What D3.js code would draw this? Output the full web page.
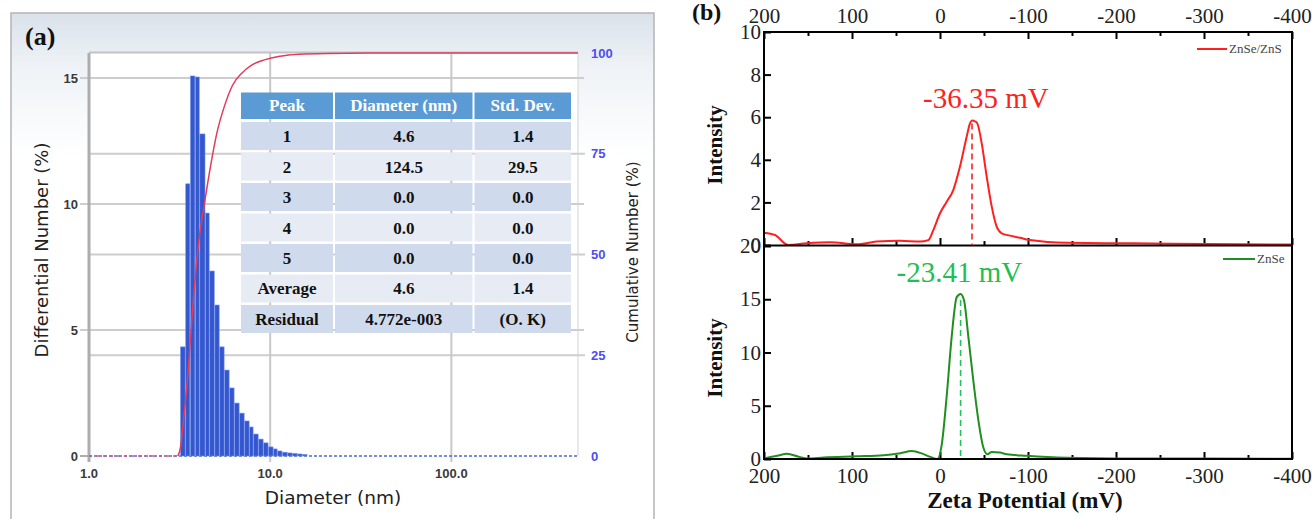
<!DOCTYPE html>
<html>
<head>
<meta charset="utf-8">
<script src="https://cdn.jsdelivr.net/npm/d3@7"></script>
<style>
  body { margin: 0; background: #fff; }
  svg { display: block; }
</style>
</head>
<body>
<div id="my_dataviz"></div>
<script>
// ---------- panel (a) data : size distribution ----------
var binEdges = [3.20, 3.42, 3.63, 3.87, 4.09, 4.40, 4.64, 4.95, 5.27, 5.61, 5.98, 6.37, 6.79,
                7.24, 7.71, 8.11, 8.65, 9.21, 9.81, 10.45, 11.0, 11.7, 12.5, 13.3, 14.2, 15.1, 16.1];
var diffNumber = [4.33, 10.8, 15.08, 15.04, 12.78, 9.64, 7.34, 5.99, 4.33, 3.41, 2.70, 2.10, 1.70,
                  1.39, 1.15, 0.87, 0.67, 0.52, 0.36, 0.28, 0.20, 0.15, 0.12, 0.10, 0.08, 0.06];
var cumDiameter = [3.09, 3.20, 3.29, 3.51, 3.74, 4.03, 4.35, 4.69, 5.07, 5.61, 6.2, 6.97, 7.9, 9.3, 11.3, 14.5, 21, 40, 500];
var cumNumber   = [0,    2.2,  7,    20,   37,   53,   63,   72,   80,   87,   92,  95,   97,  98.3, 99.2, 99.7, 99.9, 100, 100];
var leftTicks = [0, 5, 10, 15];
var rightTicks = [0, 25, 50, 75, 100];
var diamTicks = [1, 10, 100];

var tableHeader = ["Peak", "Diameter (nm)", "Std. Dev."];
var peakLabels = ["1", "2", "3", "4", "5", "Average", "Residual"];
var peakDiameters = ["4.6", "124.5", "0.0", "0.0", "0.0", "4.6", "4.772e-003"];
var peakStdDevs = ["1.4", "29.5", "0.0", "0.0", "0.0", "1.4", "(O. K)"];

// ---------- panel (b) data : zeta potential ----------
var zetaTicks = [200, 100, 0, -100, -200, -300, -400];
var zetaMinor = [150, 50, -50, -150, -250, -350];
var shellMv  = [200, 187.5, 172.7, 151.5, 125, 94.7, 72, 45.5, 22.7, 13.3, 7.6, 0, -7.6, -15.1, -22.7, -30.3,
                -34.1, -36.35, -40, -42.4, -47.4, -53.1, -58.8, -64.4, -70.1, -79.5, -90.9, -102.3, -144, -219, -300, -400];
var shellInt = [0.58, 0.47, 0.0, 0.08, 0.13, 0.03, 0.16, 0.2, 0.16, 0.23, 0.7, 1.49, 2.03, 2.58, 3.68, 5.08,
                5.71, 5.85, 5.8, 5.71, 4.77, 3.2, 1.8, 0.86, 0.55, 0.44, 0.34, 0.23, 0.1, 0.08, 0.05, 0.02];
var coreMv  = [200, 185, 174, 160, 151, 132, 95, 64, 45, 32, 20, 11, 3, -1.9, -7.6, -13.3, -19, -23.41,
               -27.3, -32.2, -37.8, -43.5, -49.2, -53.8, -58.8, -68, -75.8, -98.5, -144, -219, -400];
var coreInt = [0.05, 0.3, 0.5, 0.2, 0.05, 0.15, 0.25, 0.35, 0.55, 0.75, 0.5, 0.2, 0.0, 1.3, 5.9, 11.5, 15.2, 15.5,
               14.9, 11.5, 7.4, 3.7, 1.1, 0.45, 0.65, 0.6, 0.45, 0.3, 0.12, 0.05, 0.03];
var shellPeak = {mv: -36.35, val: 5.85, label: "-36.35 mV"};
var corePeak = {mv: -23.41, val: 15.5, label: "-23.41 mV"};

var svg = d3.select("#my_dataviz")
  .append("svg")
    .attr("width", 1312)
    .attr("height", 519);

var defs = svg.append("defs");
var grad = defs.append("linearGradient")
    .attr("id", "bgA").attr("x1", 0).attr("y1", 0).attr("x2", 0).attr("y2", 1);
grad.append("stop").attr("offset", "0%").attr("stop-color", "#d9e1ea");
grad.append("stop").attr("offset", "10%").attr("stop-color", "#eef2f6");
grad.append("stop").attr("offset", "28%").attr("stop-color", "#ffffff");

// ================= panel (a) =================
var a = svg.append("g");

a.append("rect")
  .attr("x", 11).attr("y", 13).attr("width", 643).attr("height", 515)
  .attr("fill", "url(#bgA)")
  .attr("stroke", "#b4b4b4").attr("stroke-width", 1.5);

// scales
var x = d3.scaleLog().domain([1, 500]).range([89, 578]);
var yL = d3.scaleLinear().domain([0, 16]).range([456, 52.8]);
var yR = d3.scaleLinear().domain([0, 100]).range([456, 53]);

// plot area
a.append("rect")
  .attr("x", x(1)).attr("y", yR(100) - 1)
  .attr("width", x(500) - x(1)).attr("height", yR(0) - yR(100) + 1)
  .attr("fill", "#fff");

// horizontal grid (both scales)
a.selectAll(".gl").data(leftTicks.slice(1)).enter().append("line")
  .attr("x1", x(1) - 9).attr("x2", x(500) + 6)
  .attr("y1", function(d) { return yL(d); }).attr("y2", function(d) { return yL(d); })
  .attr("stroke", "#cdcdcd").attr("stroke-width", 2);
a.selectAll(".gr").data(rightTicks.slice(1, 4)).enter().append("line")
  .attr("x1", x(1)).attr("x2", x(500) + 7)
  .attr("y1", function(d) { return yR(d); }).attr("y2", function(d) { return yR(d); })
  .attr("stroke", "#cdcdcd").attr("stroke-width", 2);
// top and right border
a.append("line").attr("x1", x(1)).attr("x2", x(500)).attr("y1", yR(100) - 0.5).attr("y2", yR(100) - 0.5)
  .attr("stroke", "#c2c2c2").attr("stroke-width", 2);
a.append("line").attr("x1", x(500)).attr("x2", x(500)).attr("y1", yR(100)).attr("y2", yR(0))
  .attr("stroke", "#d2d2d2").attr("stroke-width", 1);
// vertical grid
a.selectAll(".gv").data(diamTicks.slice(1)).enter().append("line")
  .attr("x1", function(d) { return x(d); }).attr("x2", function(d) { return x(d); })
  .attr("y1", yR(100)).attr("y2", yR(0) + 6)
  .attr("stroke", "#c8c8c8").attr("stroke-width", 2);
// left axis line and ticks
a.append("line").attr("x1", x(1)).attr("x2", x(1)).attr("y1", yR(100)).attr("y2", yR(0) + 6)
  .attr("stroke", "#adadad").attr("stroke-width", 3);
a.append("line").attr("x1", x(1) - 9).attr("x2", x(1)).attr("y1", yL(0)).attr("y2", yL(0))
  .attr("stroke", "#adadad").attr("stroke-width", 2);

// zero baseline (dashed)
a.append("line")
  .attr("x1", x(1)).attr("x2", x(500)).attr("y1", yL(0)).attr("y2", yL(0))
  .attr("stroke", "#4a6ad6").attr("stroke-width", 1.5).attr("stroke-dasharray", "3,2");
a.append("line")
  .attr("x1", x(1)).attr("x2", x(cumDiameter[0])).attr("y1", yR(0)).attr("y2", yR(0))
  .attr("stroke", "#e2557a").attr("stroke-width", 1.5).attr("stroke-dasharray", "3,4");

// Add bars
a.append("g").selectAll("rect")
  .data(diffNumber)
  .enter()
  .append("rect")
    .attr("x", function(d, i) { return x(binEdges[i]); })
    .attr("width", function(d, i) { return x(binEdges[i + 1]) - x(binEdges[i]) - 0.6; })
    .attr("y", function(d) { return yL(d); })
    .attr("height", function(d) { return yL(0) - yL(d); })
    .attr("fill", "#3457cf")
    .attr("stroke", "#7190e6")
    .attr("stroke-width", 0.6);

// cumulative curve
var cumLine = d3.line()
  .x(function(d, i) { return x(cumDiameter[i]); })
  .y(function(d) { return yR(d); })
  .curve(d3.curveMonotoneX);
a.append("path")
  .datum(cumNumber)
  .attr("d", cumLine)
  .attr("fill", "none")
  .attr("stroke", "#e23b5c")
  .attr("stroke-width", 1.5);

// tick labels
a.selectAll(".lt").data(leftTicks).enter().append("text")
  .attr("x", 78).attr("y", function(d) { return yL(d) + 4.5; })
  .attr("text-anchor", "end")
  .style("font", "bold 13px 'Liberation Sans', Arial, sans-serif")
  .attr("fill", "#3a3a3a")
  .text(function(d) { return d; });
a.selectAll(".rt").data(rightTicks).enter().append("text")
  .attr("x", x(500) + 13).attr("y", function(d) { return yR(d) + 4.5; })
  .style("font", "bold 13px 'Liberation Sans', Arial, sans-serif")
  .attr("fill", "#4d4df2")
  .text(function(d) { return d; });
a.selectAll(".xt").data(diamTicks).enter().append("text")
  .attr("x", function(d) { return x(d); }).attr("y", 478)
  .attr("text-anchor", "middle")
  .style("font", "bold 13px 'Liberation Sans', Arial, sans-serif")
  .attr("fill", "#3a3a3a")
  .text(function(d) { return d.toFixed(1); });

// axis titles
a.append("text")
  .attr("transform", "translate(48,250) rotate(-90)")
  .attr("text-anchor", "middle")
  .style("font", "18px 'DejaVu Sans', Verdana, sans-serif")
  .attr("fill", "#222")
  .text("Differential Number (%)");
a.append("text")
  .attr("transform", "translate(638,252) rotate(-90)")
  .attr("text-anchor", "middle")
  .style("font", "15px 'DejaVu Sans', Verdana, sans-serif")
  .attr("fill", "#222")
  .text("Cumulative Number (%)");
a.append("text")
  .attr("x", 333).attr("y", 504)
  .attr("text-anchor", "middle")
  .style("font", "18.5px 'DejaVu Sans', Verdana, sans-serif")
  .attr("fill", "#222")
  .text("Diameter (nm)");
a.append("text")
  .attr("x", 25).attr("y", 45)
  .style("font", "bold 26px 'Liberation Serif', 'Times New Roman', serif")
  .attr("fill", "#111")
  .text("(a)");

// peak table
var colEdges = [241, 335, 474.5, 573];
var rows = d3.scaleBand().domain(peakLabels).range([122, 333]).paddingInner(0.08);
var tbl = a.append("g");
tbl.selectAll(".hd").data(tableHeader).enter().append("rect")
  .attr("x", function(d, i) { return colEdges[i]; })
  .attr("width", function(d, i) { return colEdges[i + 1] - colEdges[i] - 2; })
  .attr("y", 92.5).attr("height", 26.5)
  .attr("fill", "#5b9bd5");
tbl.selectAll(".hdt").data(tableHeader).enter().append("text")
  .attr("x", function(d, i) { return (colEdges[i] + colEdges[i + 1] - 2) / 2; })
  .attr("y", 111)
  .attr("text-anchor", "middle")
  .style("font", "bold 17px 'Liberation Serif', 'Times New Roman', serif")
  .attr("fill", "#fff")
  .text(function(d) { return d; });

var cols = [peakLabels, peakDiameters, peakStdDevs];
cols.forEach(function(col, c) {
  tbl.selectAll(".c" + c).data(col).enter().append("rect")
    .attr("x", colEdges[c])
    .attr("width", colEdges[c + 1] - colEdges[c] - 2)
    .attr("y", function(d, i) { return rows(peakLabels[i]); })
    .attr("height", rows.bandwidth())
    .attr("fill", function(d, i) { return i % 2 === 0 ? "#cfdbed" : "#e7ecf4"; });
  tbl.selectAll(".t" + c).data(col).enter().append("text")
    .attr("x", (colEdges[c] + colEdges[c + 1] - 2) / 2)
    .attr("y", function(d, i) { return rows(peakLabels[i]) + rows.bandwidth() / 2 + 6; })
    .attr("text-anchor", "middle")
    .style("font", "bold 17px 'Liberation Serif', 'Times New Roman', serif")
    .attr("fill", "#111")
    .text(function(d) { return d; });
});

// ================= panel (b) =================
var b = svg.append("g");
var serif = "'Liberation Serif', 'Times New Roman', serif";

var xb = d3.scaleLinear().domain([200, -400]).range([764, 1292]);
var yTop = d3.scaleLinear().domain([0, 10]).range([245, 32]);
var yBot = d3.scaleLinear().domain([0, 20]).range([459, 246]);

function styleAxis(g, size) {
  g.select(".domain").remove();
  g.selectAll(".tick line").attr("stroke", "#000").attr("stroke-width", 2);
  g.selectAll(".tick text").style("font", size + "px " + serif).attr("fill", "#222");
}
var fmt = function(d) { return String(d); };

// top axis (labels) + inward ticks
b.append("g").attr("transform", "translate(0,32)")
  .call(d3.axisTop(xb).tickValues(zetaTicks).tickSize(-7).tickPadding(9).tickFormat(fmt))
  .call(styleAxis, 21);
b.append("g").attr("transform", "translate(0,32)")
  .call(d3.axisTop(xb).tickValues(zetaMinor).tickSize(-4).tickFormat(""))
  .call(styleAxis, 21);
// ticks on the shared middle line
b.append("g").attr("transform", "translate(0,245)")
  .call(d3.axisBottom(xb).tickValues(zetaTicks).tickSize(-7).tickFormat(""))
  .call(styleAxis, 21);
b.append("g").attr("transform", "translate(0,245)")
  .call(d3.axisBottom(xb).tickValues(zetaMinor).tickSize(-4).tickFormat(""))
  .call(styleAxis, 21);
// bottom axis
b.append("g").attr("transform", "translate(0,459)")
  .call(d3.axisBottom(xb).tickValues(zetaTicks).tickSize(-7).tickPadding(9).tickFormat(fmt))
  .call(styleAxis, 21);
b.append("g").attr("transform", "translate(0,459)")
  .call(d3.axisBottom(xb).tickValues(zetaMinor).tickSize(-4).tickFormat(""))
  .call(styleAxis, 21);
// y axes
b.append("g").attr("transform", "translate(764,0)")
  .call(d3.axisLeft(yTop).tickValues([0, 2, 4, 6, 8, 10]).tickSize(-7).tickPadding(3).tickFormat(fmt))
  .call(styleAxis, 21);
b.append("g").attr("transform", "translate(764,0)")
  .call(d3.axisLeft(yBot).tickValues([0, 5, 10, 15, 20]).tickSize(-7).tickPadding(3).tickFormat(fmt))
  .call(styleAxis, 21);

// curves
var shellLine = d3.line()
  .x(function(d, i) { return xb(shellMv[i]); })
  .y(function(d) { return yTop(d); })
  .curve(d3.curveMonotoneX);
b.append("path").datum(shellInt).attr("d", shellLine)
  .attr("fill", "none").attr("stroke", "#ff1f1f").attr("stroke-width", 2);

var coreLine = d3.line()
  .x(function(d, i) { return xb(coreMv[i]); })
  .y(function(d) { return yBot(d); })
  .curve(d3.curveMonotoneX);
b.append("path").datum(coreInt).attr("d", coreLine)
  .attr("fill", "none").attr("stroke", "#1f8f1f").attr("stroke-width", 2);

// frame
b.append("rect").attr("x", 764).attr("y", 32).attr("width", 528).attr("height", 427)
  .attr("fill", "none").attr("stroke", "#000").attr("stroke-width", 2);
b.append("line").attr("x1", 764).attr("x2", 1292).attr("y1", 245.5).attr("y2", 245.5)
  .attr("stroke", "#000").attr("stroke-width", 2);

// peak markers
b.append("line")
  .attr("x1", xb(shellPeak.mv)).attr("x2", xb(shellPeak.mv))
  .attr("y1", yTop(shellPeak.val) + 3).attr("y2", yTop(0))
  .attr("stroke", "#ff1f1f").attr("stroke-width", 1.6).attr("stroke-dasharray", "6,4");
b.append("line")
  .attr("x1", xb(corePeak.mv)).attr("x2", xb(corePeak.mv))
  .attr("y1", yBot(corePeak.val) + 6).attr("y2", yBot(0))
  .attr("stroke", "#22c45a").attr("stroke-width", 1.6).attr("stroke-dasharray", "6,4");
b.append("text")
  .attr("x", xb(shellPeak.mv) - 49).attr("y", 108)
  .style("font", "29px " + serif).attr("fill", "#ff2020")
  .text(shellPeak.label);
b.append("text")
  .attr("x", xb(corePeak.mv) - 64).attr("y", 282)
  .style("font", "29px " + serif).attr("fill", "#20c050")
  .text(corePeak.label);

// legends
b.append("line").attr("x1", 1197).attr("x2", 1227).attr("y1", 49).attr("y2", 49)
  .attr("stroke", "#ff1f1f").attr("stroke-width", 2);
b.append("text").attr("x", 1229).attr("y", 53)
  .style("font", "13px " + serif).attr("fill", "#444").text("ZnSe/ZnS");
b.append("line").attr("x1", 1223).attr("x2", 1255).attr("y1", 259).attr("y2", 259)
  .attr("stroke", "#1f8f1f").attr("stroke-width", 2);
b.append("text").attr("x", 1257).attr("y", 263)
  .style("font", "13px " + serif).attr("fill", "#444").text("ZnSe");

// titles
b.append("text")
  .attr("transform", "translate(722,145) rotate(-90)")
  .attr("text-anchor", "middle")
  .style("font", "bold 21px " + serif).attr("fill", "#111")
  .text("Intensity");
b.append("text")
  .attr("transform", "translate(722,358) rotate(-90)")
  .attr("text-anchor", "middle")
  .style("font", "bold 21px " + serif).attr("fill", "#111")
  .text("Intensity");
b.append("text")
  .attr("x", 1025).attr("y", 508)
  .attr("text-anchor", "middle")
  .style("font", "bold 23px " + serif).attr("fill", "#111")
  .text("Zeta Potential (mV)");
b.append("text")
  .attr("x", 692).attr("y", 20)
  .style("font", "bold 24px " + serif).attr("fill", "#111")
  .text("(b)");
</script>
</body>
</html>
